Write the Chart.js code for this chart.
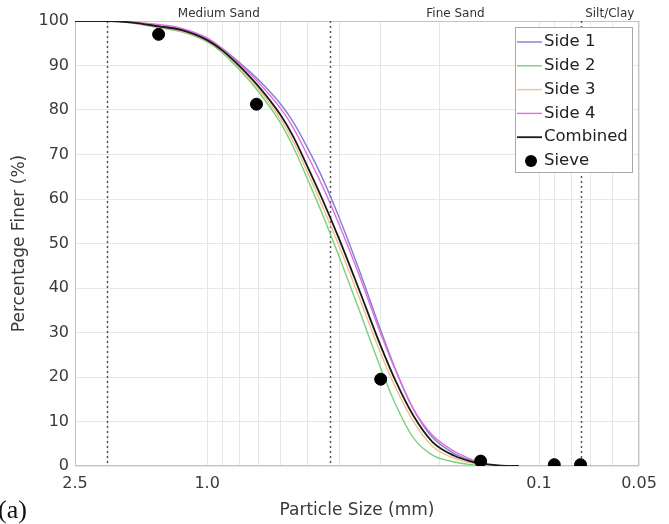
<!DOCTYPE html>
<html>
<head>
<meta charset="utf-8">
<script src="https://cdn.jsdelivr.net/npm/chart.js@4.4.1/dist/chart.umd.min.js"></script>
<style>
  html, body { margin: 0; padding: 0; background: #fff; }
  canvas { display: block; }
</style>
</head>
<body>
<canvas id="gradChart" width="669" height="524"></canvas>
<script>
const sizes = [2.5, 2.0, 1.7, 1.4, 1.2, 1.0, 0.9, 0.8, 0.7, 0.6, 0.55, 0.5, 0.45, 0.4, 0.35, 0.3, 0.27, 0.24, 0.21, 0.18, 0.16, 0.15, 0.13, 0.115];

// percentage finer for each side and the combined curve
const side1 = [100, 100, 99.7, 98.9, 98.2, 96.0, 93.8, 90.7, 86.8, 81.3, 77.3, 71.7, 64.8, 55.8, 44.5, 30.5, 21.5, 13.0, 6.5, 2.8, 1.2, 0.5, null, null];
const side2 = [100, 100, 99.6, 98.5, 97.6, 95.3, 92.9, 89.1, 84.1, 77.0, 71.7, 64.7, 56.7, 47.0, 35.5, 22.0, 13.7, 6.5, 2.5, 0.9, 0.3, 0.1, null, null];
const side3 = [100, 100, 99.6, 98.6, 97.8, 95.5, 93.2, 89.5, 84.7, 77.9, 72.9, 66.2, 58.5, 49.4, 38.3, 25.3, 17.5, 10.2, 4.5, 1.7, 0.7, 0.3, null, null];
const side4 = [100, 100, 99.8, 99.2, 98.4, 96.2, 93.8, 90.4, 86.2, 80.3, 76.0, 70.0, 63.0, 54.2, 43.3, 29.8, 21.3, 13.0, 7.0, 3.3, 1.5, 0.6, null, null];
const combined = [100, 100, 99.7, 98.8, 98.0, 95.7, 93.4, 89.9, 85.3, 78.8, 74.0, 67.5, 60.0, 51.0, 40.0, 27.0, 19.0, 11.5, 5.5, 2.3, 1.0, 0.6, 0.1, 0];

// sieve analysis
const sieveSizes = [1.4, 0.71, 0.3, 0.15, 0.09, 0.075];
const sieveFiner = [97, 81.3, 19.5, 1.1, 0.3, 0.3];

// x axis: grid positions and the labelled ticks
const gridSizes = [2.5, 2, 1, 0.9, 0.8, 0.7, 0.6, 0.5, 0.4, 0.3, 0.2, 0.1, 0.09, 0.08, 0.07, 0.06, 0.05];
const tickValues = [2.5, 1, 0.1, 0.05];
const tickLabels = ["2.5", "1.0", "0.1", "0.05"];

// soil classes
const classBounds = [2.0, 0.425, 0.075];
const classNames = ["Medium Sand", "Fine Sand", "Silt/Clay"];
const classEdges = [[2.0, 0.425], [0.425, 0.075], [0.075, 0.05]];

const seriesNames = ["Side 1", "Side 2", "Side 3", "Side 4", "Combined"];
const seriesColors = ["#7f7fcf", "#78d378", "#f2c08c", "#e36be3", "#1a1a1a"];

const textColor = "#3a3a3a";
const fontFamily = "'DejaVu Sans', sans-serif";

function toPoints(vals) {
  return sizes.map((s, i) => ({ x: s, y: vals[i] })).filter((p) => p.y !== null);
}

const lineSets = [side1, side2, side3, side4, combined].map((vals, i) => ({
  label: seriesNames[i],
  data: toPoints(vals),
  borderColor: seriesColors[i],
  backgroundColor: seriesColors[i],
  borderWidth: i === 4 ? 1.8 : 1.4,
  pointRadius: 0,
  cubicInterpolationMode: "monotone",
  order: i === 4 ? 1 : 5 - i + 1,
}));

const sieveSet = {
  label: "Sieve",
  type: "scatter",
  data: sieveSizes.map((s, i) => ({ x: s, y: sieveFiner[i] })),
  backgroundColor: "#000",
  borderColor: "#000",
  pointRadius: 6,
  pointHoverRadius: 6,
  order: 0,
};

// dotted class boundaries, class names on top, frame
const classPlugin = {
  id: "classes",
  beforeDatasetsDraw(chart) {
    const { ctx, chartArea, scales } = chart;
    ctx.save();
    ctx.strokeStyle = "#c4c4c4";
    ctx.lineWidth = 1;
    ctx.strokeRect(chartArea.left + 0.5, chartArea.top + 0.5, chartArea.right - chartArea.left - 1, chartArea.bottom - chartArea.top - 1);
    ctx.strokeStyle = "#555";
    ctx.lineWidth = 1.5;
    ctx.setLineDash([2, 3]);
    classBounds.forEach((b) => {
      const x = Math.round(scales.x.getPixelForValue(b)) + 0.5;
      ctx.beginPath();
      ctx.moveTo(x, chartArea.top);
      ctx.lineTo(x, chartArea.bottom);
      ctx.stroke();
    });
    ctx.setLineDash([]);
    ctx.fillStyle = "#333";
    ctx.font = "12px " + fontFamily;
    ctx.textAlign = "center";
    ctx.textBaseline = "middle";
    classNames.forEach((name, i) => {
      const x0 = scales.x.getPixelForValue(classEdges[i][0]);
      const x1 = scales.x.getPixelForValue(classEdges[i][1]);
      ctx.fillText(name, (x0 + x1) / 2, chartArea.top - 7);
    });
    ctx.restore();
  },
};

// legend box inside the plot, plus the panel letter
const legendPlugin = {
  id: "boxLegend",
  afterDraw(chart) {
    const { ctx, chartArea } = chart;
    const w = 117, h = 145;
    const x = chartArea.right - 7 - w;
    const y = chartArea.top + 6;
    ctx.save();
    ctx.fillStyle = "#fff";
    ctx.fillRect(x, y, w, h);
    ctx.strokeStyle = "#a8a8a8";
    ctx.lineWidth = 1;
    ctx.strokeRect(x + 0.5, y + 0.5, w, h);
    ctx.font = "16.5px " + fontFamily;
    ctx.textBaseline = "middle";
    ctx.textAlign = "left";
    const rowH = 23.8;
    const names = seriesNames.concat(["Sieve"]);
    names.forEach((name, i) => {
      const cy = y + 15 + i * rowH;
      if (i < seriesNames.length) {
        ctx.strokeStyle = seriesColors[i];
        ctx.lineWidth = i === 4 ? 1.8 : 1.4;
        ctx.beginPath();
        ctx.moveTo(x + 2, cy);
        ctx.lineTo(x + 27, cy);
        ctx.stroke();
      } else {
        ctx.fillStyle = "#000";
        ctx.beginPath();
        ctx.arc(x + 16, cy, 6, 0, Math.PI * 2);
        ctx.fill();
      }
      ctx.fillStyle = "#222";
      ctx.fillText(name, x + 29, cy);
    });
    ctx.font = "26px 'Liberation Serif', serif";
    ctx.fillStyle = "#111";
    ctx.textBaseline = "alphabetic";
    ctx.fillText("(a)", -2, 518);
    ctx.restore();
  },
};

new Chart(document.getElementById("gradChart"), {
  type: "line",
  data: { datasets: lineSets.concat([sieveSet]) },
  plugins: [classPlugin, legendPlugin],
  options: {
    responsive: false,
    animation: false,
    layout: { padding: { top: 21, right: 30, left: 0, bottom: 0 } },
    plugins: { legend: { display: false }, tooltip: { enabled: false } },
    scales: {
      x: {
        type: "logarithmic",
        reverse: true,
        min: 0.05,
        max: 2.5,
        afterBuildTicks: (scale) => {
          scale.ticks = gridSizes.map((v) => ({ value: v }));
        },
        afterFit: (scale) => { scale.height = 58; },
        grid: { color: "#e6e6e6", drawTicks: false },
        border: { display: false },
        ticks: {
          autoSkip: false,
          maxRotation: 0,
          minRotation: 0,
          padding: 8,
          color: textColor,
          font: { family: fontFamily, size: 16 },
          callback: (v) => {
            const i = tickValues.indexOf(v);
            return i >= 0 ? tickLabels[i] : "";
          },
        },
        title: {
          display: true,
          text: "Particle Size (mm)",
          color: textColor,
          font: { family: fontFamily, size: 17 },
          padding: { top: 0, bottom: 3 },
        },
      },
      y: {
        min: 0,
        max: 100,
        afterFit: (scale) => { scale.width = 75; },
        grid: { color: "#e6e6e6", drawTicks: false },
        border: { display: false },
        ticks: {
          stepSize: 10,
          padding: 6,
          color: textColor,
          font: { family: fontFamily, size: 16 },
        },
        title: {
          display: true,
          text: "Percentage Finer (%)",
          color: textColor,
          font: { family: fontFamily, size: 17 },
          padding: { top: 9, bottom: 0 },
        },
      },
    },
  },
});
</script>
</body>
</html>
